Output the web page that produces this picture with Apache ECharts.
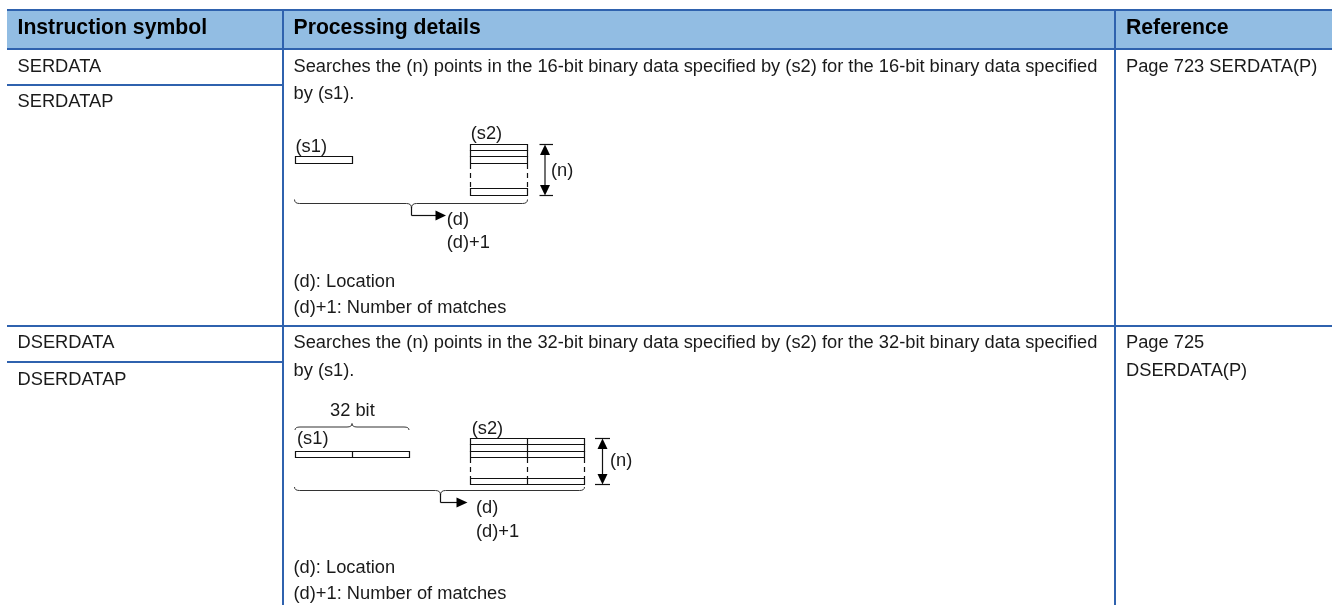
<!DOCTYPE html>
<html><head><meta charset="utf-8">
<style>html,body{margin:0;padding:0;background:#fff}#c{width:1332px;height:605px}</style>
<script src="https://cdn.jsdelivr.net/npm/echarts@6/dist/echarts.min.js"></script>
</head><body><div id="c"></div>
<script>
const headers = ["Instruction symbol", "Processing details", "Reference"];
const symbolsRow1 = ["SERDATA", "SERDATAP"];
const symbolsRow2 = ["DSERDATA", "DSERDATAP"];
const details1 = ["Searches the (n) points in the 16-bit binary data specified by (s2) for the 16-bit binary data specified", "by (s1)."];
const details2 = ["Searches the (n) points in the 32-bit binary data specified by (s2) for the 32-bit binary data specified", "by (s1)."];
const notes = ["(d): Location", "(d)+1: Number of matches"];
const refs1 = ["Page 723 SERDATA(P)"];
const refs2 = ["Page 725", "DSERDATA(P)"];
const diagramLabels = { s1: "(s1)", s2: "(s2)", n: "(n)", d: "(d)", d1: "(d)+1", bit: "32 bit" };

const BLUE = '#2f62ae', HEAD = '#92bde3', INK = '#1a1a1a';
const FONT = '18.3px "Liberation Sans", Arial, sans-serif';
const BOLD = 'bold 21.2px "Liberation Sans", Arial, sans-serif';
const els = [];
const rect = (x, y, w, h, fill, z) => els.push({ type: 'rect', z: z || 1, silent: true, shape: { x, y, width: w, height: h }, style: { fill } });
const text = (t, x, y, font, fill) => els.push({ type: 'text', z: 5, silent: true, x, y: y + 0.5, style: { text: t, font: font || FONT, fill: fill || INK, verticalAlign: 'middle', align: 'left' } });
const line = (x1, y1, x2, y2, dash, color) => els.push({ type: 'line', z: 3, silent: true, shape: { x1, y1, x2, y2 }, style: { stroke: color || '#111', lineWidth: 1.2, lineDash: dash || null } });
const box = (x1, y1, x2, y2) => els.push({ type: 'rect', z: 3, silent: true, shape: { x: x1, y: y1, width: x2 - x1, height: y2 - y1 }, style: { fill: '#fff', stroke: '#111', lineWidth: 1.2 } });
const tri = (pts) => els.push({ type: 'polygon', z: 4, silent: true, shape: { points: pts }, style: { fill: '#000' } });
const curve = (x1, y1, cx, cy, x2, y2) => els.push({ type: 'bezierCurve', z: 3, silent: true, shape: { x1, y1, x2, y2, cpx1: cx, cpy1: cy }, style: { fill: 'none', stroke: '#333', lineWidth: 1 } });
const brace = (xa, xb, xc, yTip, yBar, yCusp, r) => {
  curve(xa, yTip, xa, yBar, xa + r, yBar);
  line(xa + r, yBar, xc - r, yBar, null, '#333');
  curve(xc - r, yBar, xc, yBar, xc, yCusp);
  curve(xc, yCusp, xc, yBar, xc + r, yBar);
  line(xc + r, yBar, xb - r, yBar, null, '#333');
  curve(xb - r, yBar, xb, yBar, xb, yTip);
};

// table
rect(7, 10, 1325, 39, HEAD, 0);
const hline = (x, y, w) => rect(x, y, w, 2, BLUE, 2);
hline(7, 9, 1325); hline(7, 48, 1325); hline(7, 325, 1325);
hline(7, 84, 276); hline(7, 361, 276);
rect(282, 9, 2, 596, BLUE, 2);
rect(1114, 9, 2, 596, BLUE, 2);

text(headers[0], 17.5, 28, BOLD, '#000');
text(headers[1], 293.5, 28, BOLD, '#000');
text(headers[2], 1126, 28, BOLD, '#000');
text(symbolsRow1[0], 17.5, 66); text(symbolsRow1[1], 17.5, 101);
text(symbolsRow2[0], 17.5, 342); text(symbolsRow2[1], 17.5, 379);
text(details1[0], 293.5, 66); text(details1[1], 293.5, 93);
text(details2[0], 293.5, 342); text(details2[1], 293.5, 370);
text(notes[0], 293.5, 281); text(notes[1], 293.5, 307);
text(notes[0], 293.5, 567); text(notes[1], 293.5, 593);
text(refs1[0], 1126, 66);
text(refs2[0], 1126, 342); text(refs2[1], 1126, 370);

// diagram 1
text(diagramLabels.s1, 295.5, 146); text(diagramLabels.s2, 470.7, 133);
box(295.5, 156.5, 352.5, 163.5);
box(470.5, 144.5, 527.5, 150.5); box(470.5, 150.5, 527.5, 156.5); box(470.5, 156.5, 527.5, 163.5);
box(470.5, 188.5, 527.5, 195.5);
line(470.5, 164, 470.5, 188, [5, 4]); line(527.5, 164, 527.5, 188, [5, 4]);
line(539.5, 144.5, 553, 144.5); line(539.5, 195.5, 553, 195.5);
line(545, 150, 545, 190);
tri([[545, 144.5], [540, 155], [550, 155]]); tri([[545, 195.5], [540, 185], [550, 185]]);
text(diagramLabels.n, 551, 170);
brace(294.5, 527.5, 411.5, 199.5, 203.5, 208, 5);
line(411.5, 207, 411.5, 215.5); line(411.5, 215.5, 437, 215.5);
tri([[446, 215.5], [435.5, 210.5], [435.5, 220.5]]);
text(diagramLabels.d, 446.7, 219); text(diagramLabels.d1, 446.7, 242);

// diagram 2
text(diagramLabels.bit, 330, 410);
brace(295, 409, 352, 430, 427, 423.5, 5);
text(diagramLabels.s1, 297, 438); text(diagramLabels.s2, 471.7, 428);
box(295.5, 451.5, 409.5, 457.5); line(352.5, 451.5, 352.5, 457.5);
box(470.5, 438.5, 584.5, 444.5); box(470.5, 444.5, 584.5, 451.5); box(470.5, 451.5, 584.5, 457.5);
box(470.5, 478.5, 584.5, 484.5);
line(527.5, 438.5, 527.5, 457.5); line(527.5, 478.5, 527.5, 484.5);
[470.5, 527.5, 584.5].forEach(x => line(x, 458, x, 478, [5, 4]));
line(595, 438.5, 610, 438.5); line(595, 484.5, 610, 484.5);
line(602.5, 444, 602.5, 479);
tri([[602.5, 438.5], [597.5, 449], [607.5, 449]]); tri([[602.5, 484.5], [597.5, 474], [607.5, 474]]);
text(diagramLabels.n, 610, 460);
brace(294.5, 584.5, 440.5, 487, 490.5, 495, 5);
line(440.5, 494, 440.5, 502.5); line(440.5, 502.5, 458, 502.5);
tri([[467.5, 502.5], [456.5, 497.5], [456.5, 507.5]]);
text(diagramLabels.d, 476, 507.5); text(diagramLabels.d1, 476, 531);

const chart = echarts.init(document.getElementById('c'), null, { renderer: 'canvas' });
chart.setOption({ animation: false, backgroundColor: '#fff', graphic: { elements: els } });
</script></body></html>
